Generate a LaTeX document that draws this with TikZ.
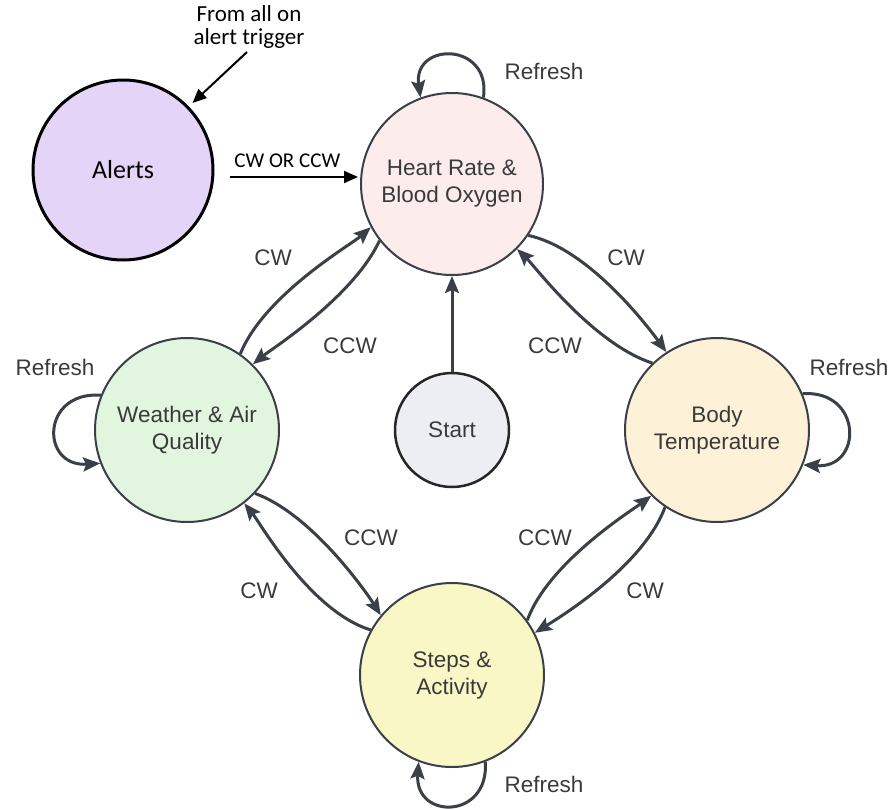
\documentclass[tikz,border=0pt]{standalone}
\usepackage{fontspec}
\setmainfont{Liberation Sans}
\newfontfamily\calibrifont{Carlito}
\usetikzlibrary{arrows.meta,calc}

\definecolor{ink}{HTML}{3B3F48}
\definecolor{txt}{HTML}{3A3A3A}
\definecolor{hrfill}{HTML}{FCEDEC}
\definecolor{wxfill}{HTML}{E1F5DF}
\definecolor{btfill}{HTML}{FDF1D8}
\definecolor{stfill}{HTML}{F9F7C6}
\definecolor{startfill}{HTML}{EDEEF3}
\definecolor{alfill}{HTML}{E3D4F8}

\begin{document}
\begin{tikzpicture}[x=1pt,y=1pt,
  state/.style={circle, draw=ink, line width=2pt, minimum size=184pt,
    inner sep=0pt, align=center, text=txt,
    font=\fontsize{22.5}{27}\selectfont},
  lbl/.style={text=txt, font=\fontsize{22.5}{27}\selectfont, inner sep=0pt},
  conn/.style={draw=ink, line width=3pt,
    -{Stealth[length=17pt,width=14pt,inset=3pt]}},
  swing/.style={out looseness=0.9, in looseness=0.35},
  blk/.style={draw=black, line width=2pt,
    -{Triangle[length=14pt,width=12pt]}},
  calfont/.style={font=\calibrifont\fontsize{23}{23}\selectfont, text=black}
]
\useasboundingbox (0,0) rectangle (894,-809);

% states
\node[state, fill=hrfill, minimum size=182pt] (hr) at (452,-184) {Heart Rate \&\\Blood Oxygen};
\node[state, fill=wxfill] (wx) at (187,-430) {Weather \& Air\\Quality};
\node[state, fill=btfill] (bt) at (717,-430) {Body\\Temperature};
\node[state, fill=stfill] (st) at (452,-675) {Steps \&\\Activity};
\node[state, fill=startfill, minimum size=114pt, line width=2.5pt, draw=black!85] (start) at (452,-430) {Start};
\node[circle, draw=black, line width=3pt, fill=alfill, minimum size=180pt,
      inner sep=0pt, font=\calibrifont\fontsize{26}{30}\selectfont] (alerts) at (123,-170) {Alerts};

% alert entry
\node[calfont, align=center] (trig) at (249,-27) {From all on\\alert trigger};
\draw[blk, shorten >=5pt] ([xshift=-2pt]trig.south) -- (alerts.44);
\draw[blk] ($(alerts.east)+(15,-7)$) -- ($(hr.west)+(-2,7)$)
  node[pos=0.45, above=5pt, calfont, font=\calibrifont\fontsize{21}{21}\selectfont] (cwccw) {CW OR CCW};

% start
\draw[conn] (start.north) -- (hr.south);

% heart rate <-> weather
\draw[conn] (wx.55) to[swing,out=68,in=222] (hr.208);
\draw[conn] (hr.218) to[swing,out=245,in=39] (wx.45);
\node[lbl] (l1) at (273,-258) {CW};
\node[lbl] (l2) at (350,-346) {CCW};

% heart rate <-> body temperature
\draw[conn] (hr.-34) to[swing,out=-12,in=126] (bt.123);
\draw[conn] (bt.134) to[swing,out=162,in=-44] (hr.-45);
\node[lbl] (l3) at (626,-258) {CW};
\node[lbl] (l4) at (555,-346) {CCW};

% weather <-> steps
\draw[conn] (wx.-43) to[swing,out=-20,in=122] (st.140);
\draw[conn] (st.151) to[swing,out=163,in=-51] (wx.-52);
\node[lbl] (l5) at (371,-538) {CCW};
\node[lbl] (l6) at (259,-591) {CW};

% steps <-> body temperature
\draw[conn] (st.36) to[swing,out=70,in=217] (bt.-135);
\draw[conn] (bt.-124) to[swing,out=250,in=32] (st.27);
\node[lbl] (l7) at (545,-538) {CCW};
\node[lbl] (l8) at (645,-591) {CW};

% refresh loops
\draw[conn] (hr.70) .. controls +(8,56) and +(-8,56) .. (hr.110);
\node[lbl] (r1) at (544,-71) {Refresh};
\draw[conn] (wx.158) .. controls +(-60,4) and +(-60,-4) .. (wx.201);
\node[lbl] (r2) at (55,-367) {Refresh};
\draw[conn] (bt.23) .. controls +(60,4) and +(60,-4) .. (bt.-22);
\node[lbl] (r3) at (849,-367) {Refresh};
\draw[conn] (st.-69) .. controls +(4,-58) and +(-4,-58) .. (st.-111);
\node[lbl] (r4) at (544,-784) {Refresh};
\end{tikzpicture}
\end{document}
